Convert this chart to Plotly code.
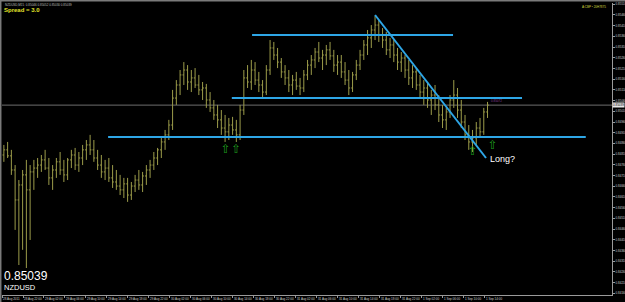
import plotly.graph_objects as go

symbol = "NZDUSD"
header = "NZDUSD,M15  0.85046 0.85052 0.85030 0.85039"
spread_text = "Spread = 3.0"
bid = 0.85039

opens = [0.84806, 0.84830, 0.84802, 0.84736, 0.84596, 0.84666, 0.84713, 0.84643, 0.84727, 0.84745,
         0.84759, 0.84783, 0.84745, 0.84699, 0.84736, 0.84774, 0.84736, 0.84713, 0.84783, 0.84806,
         0.84759, 0.84792, 0.84830, 0.84853, 0.84830, 0.84792, 0.84759, 0.84727, 0.84745, 0.84699,
         0.84680, 0.84661, 0.84643, 0.84671, 0.84619, 0.84661, 0.84689, 0.84666, 0.84708, 0.84736,
         0.84759, 0.84792, 0.84830, 0.84867, 0.84900, 0.84946, 0.85072, 0.85133, 0.85180, 0.85203,
         0.85147, 0.85166, 0.85133, 0.85110, 0.85119, 0.85063, 0.85026, 0.84993, 0.84970, 0.84932,
         0.84914, 0.84946, 0.84923, 0.84900, 0.85016, 0.85166, 0.85147, 0.85203, 0.85156, 0.85133,
         0.85100, 0.85203, 0.85306, 0.85273, 0.85240, 0.85194, 0.85166, 0.85133, 0.85156, 0.85128,
         0.85119, 0.85180, 0.85226, 0.85250, 0.85287, 0.85259, 0.85273, 0.85297, 0.85269, 0.85226,
         0.85240, 0.85194, 0.85156, 0.85119, 0.85180, 0.85226, 0.85273, 0.85320, 0.85353, 0.85390,
         0.85413, 0.85367, 0.85343, 0.85297, 0.85320, 0.85273, 0.85240, 0.85259, 0.85203, 0.85166,
         0.85194, 0.85133, 0.85100, 0.85119, 0.85063, 0.85086, 0.85040, 0.84993, 0.84970, 0.85007,
         0.85063, 0.85086, 0.85016, 0.84960, 0.84900, 0.84867, 0.84886, 0.84932, 0.84914, 0.85007]
highs = [0.84853, 0.84867, 0.84830, 0.84759, 0.84689, 0.84736, 0.84783, 0.84759, 0.84783, 0.84792,
         0.84806, 0.84830, 0.84792, 0.84759, 0.84792, 0.84820, 0.84783, 0.84792, 0.84830, 0.84839,
         0.84820, 0.84853, 0.84876, 0.84900, 0.84876, 0.84830, 0.84806, 0.84783, 0.84792, 0.84759,
         0.84736, 0.84713, 0.84699, 0.84699, 0.84680, 0.84713, 0.84736, 0.84727, 0.84759, 0.84783,
         0.84820, 0.84839, 0.84886, 0.84923, 0.84970, 0.85110, 0.85156, 0.85203, 0.85240, 0.85226,
         0.85203, 0.85212, 0.85180, 0.85147, 0.85138, 0.85100, 0.85063, 0.85040, 0.85016, 0.84993,
         0.84979, 0.84984, 0.84970, 0.85040, 0.85203, 0.85226, 0.85250, 0.85240, 0.85194, 0.85156,
         0.85226, 0.85343, 0.85334, 0.85306, 0.85259, 0.85226, 0.85203, 0.85180, 0.85194, 0.85166,
         0.85203, 0.85250, 0.85273, 0.85306, 0.85334, 0.85297, 0.85320, 0.85334, 0.85297, 0.85273,
         0.85273, 0.85240, 0.85203, 0.85194, 0.85250, 0.85297, 0.85343, 0.85390, 0.85413, 0.85455,
         0.85437, 0.85399, 0.85381, 0.85353, 0.85343, 0.85306, 0.85287, 0.85273, 0.85250, 0.85226,
         0.85212, 0.85180, 0.85156, 0.85147, 0.85110, 0.85133, 0.85086, 0.85040, 0.85026, 0.85086,
         0.85156, 0.85119, 0.85063, 0.84993, 0.84946, 0.84923, 0.84960, 0.84979, 0.85026, 0.85054]
lows = [0.84774, 0.84792, 0.84713, 0.84456, 0.84292, 0.84363, 0.84278, 0.84409, 0.84643, 0.84699,
        0.84727, 0.84736, 0.84666, 0.84643, 0.84699, 0.84713, 0.84680, 0.84689, 0.84745, 0.84736,
        0.84727, 0.84759, 0.84783, 0.84806, 0.84774, 0.84736, 0.84699, 0.84689, 0.84680, 0.84652,
        0.84643, 0.84619, 0.84605, 0.84587, 0.84596, 0.84633, 0.84643, 0.84633, 0.84666, 0.84699,
        0.84736, 0.84759, 0.84792, 0.84830, 0.84876, 0.84923, 0.85040, 0.85086, 0.85133, 0.85110,
        0.85100, 0.85119, 0.85086, 0.85063, 0.85026, 0.85007, 0.84970, 0.84932, 0.84900, 0.84867,
        0.84876, 0.84900, 0.84867, 0.84876, 0.84993, 0.85119, 0.85110, 0.85133, 0.85100, 0.85077,
        0.85086, 0.85180, 0.85250, 0.85212, 0.85166, 0.85133, 0.85100, 0.85086, 0.85110, 0.85086,
        0.85100, 0.85156, 0.85180, 0.85212, 0.85240, 0.85203, 0.85226, 0.85250, 0.85194, 0.85180,
        0.85166, 0.85133, 0.85086, 0.85100, 0.85156, 0.85203, 0.85250, 0.85273, 0.85306, 0.85343,
        0.85334, 0.85306, 0.85273, 0.85259, 0.85240, 0.85203, 0.85194, 0.85166, 0.85133, 0.85119,
        0.85110, 0.85072, 0.85040, 0.85026, 0.84993, 0.85016, 0.84960, 0.84932, 0.84923, 0.84979,
        0.85026, 0.84979, 0.84932, 0.84876, 0.84830, 0.84820, 0.84853, 0.84886, 0.84900, 0.84979]
closes = [0.84830, 0.84802, 0.84736, 0.84596, 0.84666, 0.84713, 0.84643, 0.84727, 0.84745, 0.84759,
          0.84783, 0.84745, 0.84699, 0.84736, 0.84774, 0.84736, 0.84713, 0.84783, 0.84806, 0.84759,
          0.84792, 0.84830, 0.84853, 0.84830, 0.84792, 0.84759, 0.84727, 0.84745, 0.84699, 0.84680,
          0.84661, 0.84643, 0.84671, 0.84619, 0.84661, 0.84689, 0.84666, 0.84708, 0.84736, 0.84759,
          0.84792, 0.84830, 0.84867, 0.84900, 0.84946, 0.85072, 0.85133, 0.85180, 0.85203, 0.85147,
          0.85166, 0.85133, 0.85110, 0.85119, 0.85063, 0.85026, 0.84993, 0.84970, 0.84932, 0.84914,
          0.84946, 0.84923, 0.84900, 0.85016, 0.85166, 0.85147, 0.85203, 0.85156, 0.85133, 0.85100,
          0.85203, 0.85306, 0.85273, 0.85240, 0.85194, 0.85166, 0.85133, 0.85156, 0.85128, 0.85119,
          0.85180, 0.85226, 0.85250, 0.85287, 0.85259, 0.85273, 0.85297, 0.85269, 0.85226, 0.85240,
          0.85194, 0.85156, 0.85119, 0.85180, 0.85226, 0.85273, 0.85320, 0.85353, 0.85390, 0.85413,
          0.85367, 0.85343, 0.85297, 0.85320, 0.85273, 0.85240, 0.85259, 0.85203, 0.85166, 0.85194,
          0.85133, 0.85100, 0.85119, 0.85063, 0.85086, 0.85040, 0.84993, 0.84970, 0.85007, 0.85063,
          0.85086, 0.85016, 0.84960, 0.84900, 0.84867, 0.84886, 0.84932, 0.84914, 0.85007, 0.85039]

time_labels = ["28 Aug 2011", "28 Aug 22:00", "29 Aug 02:00", "29 Aug 06:00", "29 Aug 10:00",
               "29 Aug 14:00", "29 Aug 18:00", "29 Aug 22:00", "30 Aug 02:00", "30 Aug 06:00",
               "30 Aug 10:00", "30 Aug 14:00", "30 Aug 18:00", "30 Aug 22:00", "31 Aug 02:00",
               "31 Aug 06:00", "31 Aug 10:00", "31 Aug 14:00", "31 Aug 18:00", "31 Aug 22:00",
               "1 Sep 02:00", "1 Sep 06:00", "1 Sep 10:00", "1 Sep 14:00"]
bars_per_label = 5.6

price_ticks = [0.84160, 0.84210, 0.84260, 0.84310, 0.84360, 0.84410, 0.84460, 0.84510, 0.84560,
               0.84610, 0.84660, 0.84710, 0.84760, 0.84810, 0.84860, 0.84910, 0.84960, 0.85010,
               0.85060, 0.85110, 0.85160, 0.85210, 0.85260, 0.85310, 0.85360, 0.85410, 0.85460,
               0.85510]

# drawn objects (bar index / price)
hline_levels = [0.85367, 0.85072, 0.84890]
hline_start = [66.2, 60.8, 27.8]
hline_end = [119.8, 138.2, 155.2]
trend_x = [99.0, 128.6]
trend_y = [0.85460, 0.84792]
arrow_x = [59.2, 62.0, 125.1, 130.4]
arrow_y = [0.84830, 0.84830, 0.84822, 0.84850]
note_x = 129.1
note_y = 0.84787
note_text = "Long?"

idx = list(range(len(closes)))
BAR = "#9c9c4a"
LINE = "#2ea6e6"
FONT = "Liberation Sans, Arial, sans-serif"

fig = go.Figure()
fig.add_trace(go.Ohlc(x=idx, open=opens, high=highs, low=lows, close=closes,
                      increasing=dict(line=dict(color=BAR, width=1)),
                      decreasing=dict(line=dict(color=BAR, width=1)),
                      tickwidth=0.35, hoverinfo="skip", showlegend=False))

# bid line
fig.add_shape(type="line", xref="paper", yref="y", x0=0, x1=1, y0=bid, y1=bid,
              line=dict(color="#6e6e6e", width=1), layer="below")
for lv, a, b in zip(hline_levels, hline_start, hline_end):
    fig.add_shape(type="line", xref="x", yref="y", x0=a, x1=b, y0=lv, y1=lv,
                  line=dict(color=LINE, width=2))
fig.add_shape(type="line", xref="x", yref="y", x0=trend_x[0], x1=trend_x[1],
              y0=trend_y[0], y1=trend_y[1], line=dict(color=LINE, width=2))

fig.add_trace(go.Scatter(x=arrow_x, y=arrow_y, mode="text", text=["⇧"] * len(arrow_x),
                         textfont=dict(color="#1e9a1e", size=12, family="DejaVu Sans"),
                         hoverinfo="skip", showlegend=False))

fig.add_annotation(x=note_x, y=note_y, xref="x", yref="y", text=note_text, showarrow=False,
                   xanchor="left", yanchor="middle", font=dict(color="#ffffff", size=9, family=FONT))
fig.add_annotation(x=129.4, y=0.85058, xref="x", yref="y", text="0.85072", showarrow=False,
                   xanchor="left", yanchor="middle", font=dict(color="#8a3e9a", size=3, family=FONT))

# texts
fig.add_annotation(x=0, y=1, xref="paper", yref="paper", text=header, showarrow=False,
                   xanchor="left", yanchor="top", xshift=1, yshift=2,
                   font=dict(color="#bdbdbd", size=3, family=FONT))
fig.add_annotation(x=0, y=1, xref="paper", yref="paper", text="<b>" + spread_text + "</b>",
                   showarrow=False, xanchor="left", yanchor="top", yshift=-2,
                   font=dict(color="#e3e32a", size=6, family=FONT))
fig.add_annotation(x=1, y=1, xref="paper", yref="paper", text="A:CBP • 20H7875",
                   showarrow=False, xanchor="right", yanchor="top", xshift=-4, yshift=0,
                   font=dict(color="#d8d840", size=3, family=FONT))
fig.add_annotation(x=0, y=0, xref="paper", yref="paper", text="{:.5f}".format(bid),
                   showarrow=False, xanchor="left", yanchor="bottom", yshift=10,
                   font=dict(color="#ffffff", size=12, family=FONT))
fig.add_annotation(x=0, y=0, xref="paper", yref="paper", text=symbol,
                   showarrow=False, xanchor="left", yanchor="bottom", yshift=1,
                   font=dict(color="#ffffff", size=7.5, family=FONT))
fig.add_annotation(x=1, y=bid, xref="paper", yref="y", text="{:.5f}".format(bid),
                   showarrow=False, xanchor="left", yanchor="middle", xshift=0,
                   bgcolor="#e8e8e8", borderpad=0,
                   font=dict(color="#000000", size=3, family=FONT))

# outer frame
fig.add_shape(type="line", xref="paper", yref="paper", x0=-0.01, x1=1.03, y0=1.0085, y1=1.0085,
              line=dict(color="#7a7a7a", width=2))
fig.add_shape(type="line", xref="paper", yref="paper", x0=-0.0025, x1=-0.0025, y0=-0.03, y1=1.02,
              line=dict(color="#7a7a7a", width=2))

tickvals = [-0.5 + bars_per_label * i for i in range(len(time_labels))]

fig.update_layout(
    width=625, height=302,
    margin=dict(l=2, r=13, t=3, b=7),
    paper_bgcolor="#000000", plot_bgcolor="#000000",
    showlegend=False,
    xaxis=dict(range=[-0.5, 162.2], rangeslider=dict(visible=False), showgrid=False,
               zeroline=False, showline=True, linecolor="#9a9a9a", linewidth=1,
               tickmode="array", tickvals=tickvals, ticktext=time_labels, tickangle=0,
               ticks="outside", ticklen=2, tickcolor="#9a9a9a",
               ticklabelposition="outside right",
               tickfont=dict(color="#cfcfcf", size=3, family=FONT), automargin=False,
               fixedrange=True),
    yaxis=dict(range=[0.84152, 0.85516], side="right", showgrid=False, zeroline=False,
               showline=True, linecolor="#9a9a9a", linewidth=1, mirror=False,
               tickmode="array", tickvals=price_ticks,
               ticktext=["{:.5f}".format(v) for v in price_ticks],
               ticks="outside", ticklen=2, tickcolor="#9a9a9a",
               tickfont=dict(color="#cfcfcf", size=3, family=FONT), automargin=False,
               fixedrange=True),
)

fig.write_html("out.html")
